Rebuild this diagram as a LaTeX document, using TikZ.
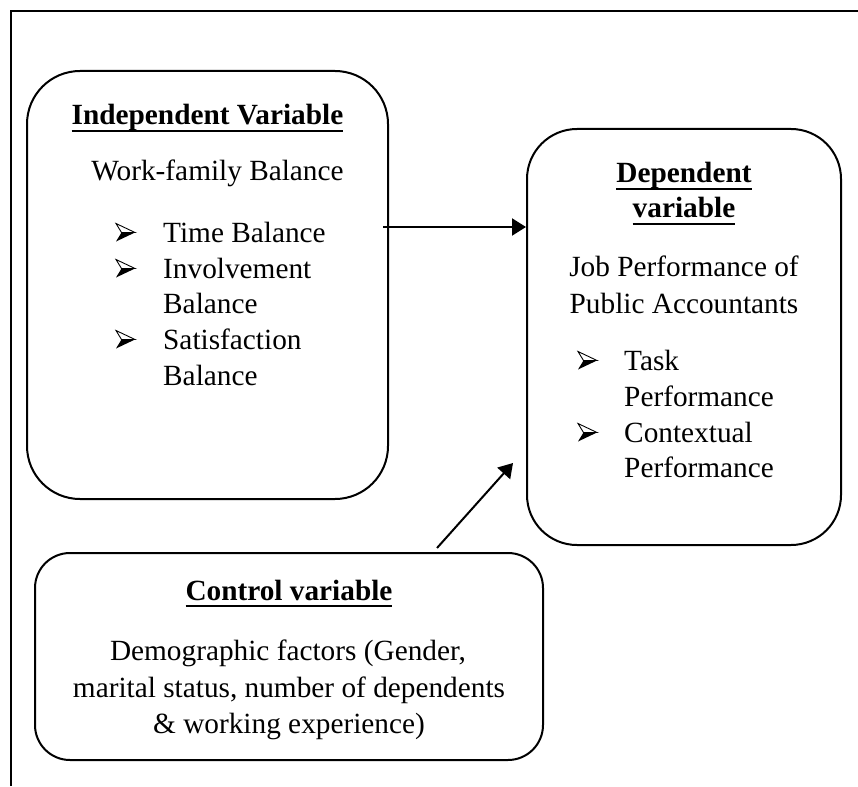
\documentclass[tikz,border=0pt]{standalone}
\usepackage{fontspec}
\setmainfont{Liberation Serif}
\usetikzlibrary{arrows.meta}

% underlined heading text
\newcommand\ulhead[1]{\setbox0\hbox{\bfseries #1}\rlap{\rule[-7.2pt]{\wd0}{2.4pt}}\box0}

\tikzset{
  box/.style={draw, line width=2pt, inner sep=0pt, rectangle},
  txt/.style={inner sep=0pt, anchor=base, font=\fontsize{29.3}{36}\selectfont},
  itm/.style={txt, anchor=base west},
  arr/.style={line width=2pt, -{Triangle[length=14pt,width=17pt]}},
  frame/.style={line width=2pt},
  arrowbullet/.pic={
    \fill[black] (9.5,0) -- (-4,0) -- (-9.5,9) -- cycle;
    \draw[line width=0.9pt, line join=miter, fill=white] (9.5,0) -- (-9.5,-9) -- (-4,0) -- cycle;
  }
}

\begin{document}
\begin{tikzpicture}[x=1pt, y=-1pt]
\useasboundingbox (0,0) rectangle (858,786);

% page frame (top and left edges)
\draw[frame] (11,786) -- (11,11) -- (858,11);

% boxes
\node[box, rounded corners=53pt, minimum width=361pt, minimum height=428pt] (indep) at (207.5,285) {};
\node[box, rounded corners=50pt, minimum width=314pt, minimum height=416pt] (dep) at (684,337) {};
\node[box, rounded corners=35pt, minimum width=508pt, minimum height=207pt] (ctrl) at (289,656.5) {};

% independent variable
\node[txt] (indepT) at (207.5,125) {\ulhead{Independent Variable}};
\node[txt] (indepS) at (217.5,181) {Work-family Balance};
\pic at (125.5,232.5) {arrowbullet};
\node[itm] (i1) at (163,242) {Time Balance};
\pic at (125.5,268.5) {arrowbullet};
\node[itm] (i2a) at (163,278) {Involvement};
\node[itm] (i2b) at (163,313) {Balance};
\pic at (125.5,339.5) {arrowbullet};
\node[itm] (i3a) at (163,349) {Satisfaction};
\node[itm] (i3b) at (163,385) {Balance};

% dependent variable
\node[txt] (depT1) at (684,183) {\ulhead{Dependent}};
\node[txt] (depT2) at (684,218) {\ulhead{variable}};
\node[txt] (depS1) at (684,276) {Job Performance of};
\node[txt] (depS2) at (684,313) {Public Accountants};
\pic at (587.5,360.5) {arrowbullet};
\node[itm] (d1a) at (624,370) {Task};
\node[itm] (d1b) at (624,406) {Performance};
\pic at (587.5,432.5) {arrowbullet};
\node[itm] (d2a) at (624,442) {Contextual};
\node[itm] (d2b) at (624,477) {Performance};

% control variable
\node[txt] (ctrlT) at (289,600) {\ulhead{Control variable}};
\node[txt] (c1) at (288,660) {Demographic factors (Gender,};
\node[txt] (c2) at (289,697) {marital status, number of dependents};
\node[txt] (c3) at (289,733) {\& working experience)};

% connectors
\coordinate (hstart) at (383,227);
\draw[arr] (hstart) -- (hstart -| dep.west);
\coordinate (dstart) at (437,548);
\coordinate (dend) at (513,463);
\draw[arr] (dstart) -- (dend);
\end{tikzpicture}
\end{document}
